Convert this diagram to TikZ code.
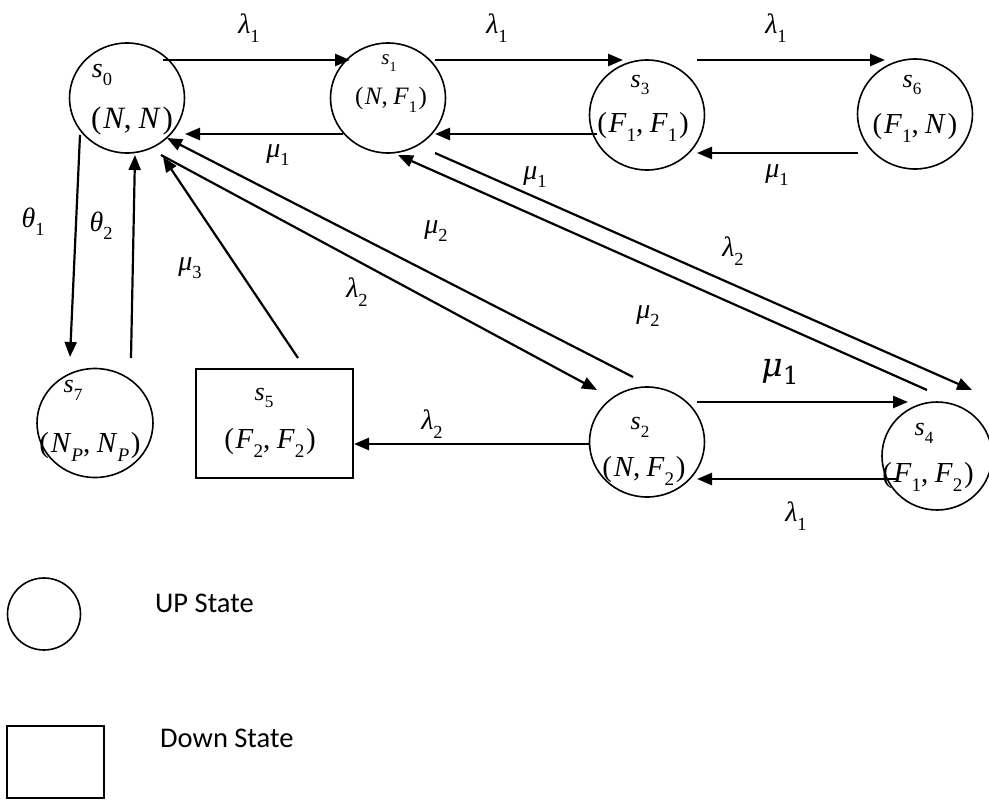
\documentclass[tikz,border=0pt]{standalone}
\usepackage{fontspec}
\usepackage{graphicx}
\setmainfont{Liberation Serif}
\newfontfamily\legendfont{Carlito}
\newfontfamily\heavymath{DejaVu Serif}
\usetikzlibrary{arrows.meta,calc,shapes.geometric}
% lowered, reduced subscript in the style of an equation editor
\newcommand{\lowsub}[1]{\raisebox{-0.3em}{\scalebox{0.66}{#1}}}
\newcommand{\rsym}[2]{\textit{#1}\lowsub{#2}}
% condition pair of the two units
\newcommand{\cpair}[2]{(\kern0.06em#1,\kern0.22em#2\kern0.06em)}

\begin{document}
\begin{tikzpicture}[x=1bp,y=-1bp,
  state/.style={ellipse, draw, line width=1.6bp, minimum width=115bp,
    minimum height=110bp, inner sep=0pt},
  downstate/.style={rectangle, draw, line width=1.6bp, minimum width=157bp,
    minimum height=109bp, inner sep=0pt},
  flow/.style={line width=2.2bp, -{Triangle[length=15bp,width=12bp]}},
  hflow/.style={flow, line width=2.6bp},
  nametext/.style={inner sep=0pt, font=\fontsize{26bp}{30bp}\selectfont},
  pairtext/.style={inner sep=0pt, font=\fontsize{29bp}{33bp}\selectfont},
  ratelbl/.style={inner sep=0pt, font=\fontsize{28bp}{32bp}\selectfont},
  keytext/.style={inner sep=0pt, anchor=base west, font=\legendfont\fontsize{28.5bp}{32bp}\selectfont}]

\useasboundingbox (0,0) rectangle (989,800);

% states
\node[state] (s0) at (127,98) {};
\node[state] (s1) at (388,98) {};
\node[state] (s3) at (647,115) {};
\node[state] (s6) at (915,114) {};
\node[state, minimum width=116bp, minimum height=109bp] (s7) at (95,423) {};
\node[downstate] (s5) at (274.5,423.5) {};
\node[state] (s2) at (647,442) {};
\node[state, minimum width=110bp, minimum height=108bp] (s4) at (937,456) {};

% state names and component conditions
\node[nametext, font=\fontsize{28bp}{32bp}\selectfont] (s0n) at (102,75) {\rsym{s}{0}};
\node[pairtext, font=\fontsize{31bp}{34bp}\selectfont] (s0p) at (132,121) {\cpair{\textit{N}}{\textit{N}}};
\node[nametext, font=\fontsize{21bp}{24bp}\selectfont] (s1n) at (389,63) {\rsym{s}{1}};
\node[pairtext, font=\fontsize{25bp}{29bp}\selectfont] (s1p) at (391,100) {\cpair{\textit{N}}{\rsym{F}{1}}};
\node[nametext] (s3n) at (640,85) {\rsym{s}{3}};
\node[pairtext] (s3p) at (643,127) {\cpair{\rsym{F}{1}}{\rsym{F}{1}}};
\node[nametext] (s6n) at (912,85) {\rsym{s}{6}};
\node[pairtext] (s6p) at (915,128) {\cpair{\rsym{F}{1}}{\textit{N}}};
\node[nametext] (s7n) at (73,390) {\rsym{s}{7}};
\node[pairtext] (s7p) at (90,447) {\cpair{\textit{N}\lowsub{\textit{P}}}{\textit{N}\lowsub{\textit{P}}}};
\node[nametext] (s5n) at (264,398) {\rsym{s}{5}};
\node[pairtext] (s5p) at (270,443) {\cpair{\rsym{F}{2}}{\rsym{F}{2}}};
\node[nametext] (s2n) at (640,427) {\rsym{s}{2}};
\node[pairtext] (s2p) at (644,471) {\cpair{\textit{N}}{\rsym{F}{2}}};
\node[nametext] (s4n) at (924,433) {\rsym{s}{4}};
\node[pairtext] (s4p) at (928,477) {\cpair{\rsym{F}{1}}{\rsym{F}{2}}};

% transitions of the top row
\draw[hflow] ($(s0)+(36,-38)$) -- ($(s1)+(-38,-38)$);
\draw[hflow] ($(s1)+(-45,36)$) -- ($(s0)+(58,36)$);
\draw[hflow] ($(s1)+(47,-38)$) -- ($(s3)+(-24,-55)$);
\draw[hflow] ($(s3)+(-50,19)$) -- ($(s1)+(47,36)$);
\draw[hflow] ($(s3)+(50,-55)$) -- ($(s6)+(-30,-54)$);
\draw[hflow] ($(s6)+(-57,39)$) -- ($(s3)+(50,38)$);

% preventive maintenance
\draw[flow] ($(s0)+(-47,37)$) -- ($(s7)+(-25,-66)$);
\draw[flow] ($(s7)+(36,-65)$) -- ($(s0)+(8,57)$);

% diagonal transitions
\draw[flow] ($(s5)+(23.5,-65.5)$) -- ($(s0)+(36,59)$);
\draw[flow] ($(s0)+(34,57)$) -- ($(s2)+(-50,-52)$);
\draw[flow] ($(s2)+(-14,-65)$) -- ($(s0)+(40,40)$);
\draw[flow] ($(s1)+(47,55)$) -- ($(s4)+(35,-66)$);
\draw[flow] ($(s4)+(-10,-66)$) -- ($(s1)+(10,57)$);

% transitions of the bottom row
\draw[hflow] ($(s2)+(50,-40)$) -- ($(s4)+(-29,-54)$);
\draw[hflow] ($(s4)+(-40,23)$) -- ($(s2)+(50,37)$);
\draw[hflow] ($(s2)+(-57,2)$) -- ($(s5)+(79.5,20.5)$);

% rate labels
\node[ratelbl] (r01) at (249,28) {\rsym{λ}{1}};
\node[ratelbl] (r10) at (278,155) {\rsym{μ}{1}};
\node[ratelbl] (r13) at (497,28) {\rsym{λ}{1}};
\node[ratelbl] (r31) at (535,177) {\rsym{μ}{1}};
\node[ratelbl] (r36) at (776,28) {\rsym{λ}{1}};
\node[ratelbl] (r63) at (777,175) {\rsym{μ}{1}};
\node[ratelbl] (r07) at (33,222) {\rsym{θ}{1}};
\node[ratelbl] (r70) at (101,226) {\rsym{θ}{2}};
\node[ratelbl] (r50) at (190,268) {\rsym{μ}{3}};
\node[ratelbl] (r20) at (436,231) {\rsym{μ}{2}};
\node[ratelbl] (r02) at (357,292) {\rsym{λ}{2}};
\node[ratelbl] (r14) at (733,251) {\rsym{λ}{2}};
\node[ratelbl] (r41) at (648,316) {\rsym{μ}{2}};
\node[inner sep=0pt, font=\heavymath\fontsize{33bp}{36bp}\selectfont] (r24) at (780,372)
  {\textit{μ}\raisebox{-0.25em}{\scalebox{0.75}{1}}};
\node[ratelbl] (r25) at (432,424) {\rsym{λ}{2}};
\node[ratelbl] (r42) at (796,516) {\rsym{λ}{1}};

% key
\node[state, minimum width=73bp, minimum height=72bp] (upkey) at (44,614) {};
\node[keytext] (uptext) at (155,612) {UP State};
\node[downstate, minimum width=97bp, minimum height=72bp] (downkey) at (55.5,762) {};
\node[keytext] (downtext) at (160,747) {Down State};
\end{tikzpicture}
\end{document}
